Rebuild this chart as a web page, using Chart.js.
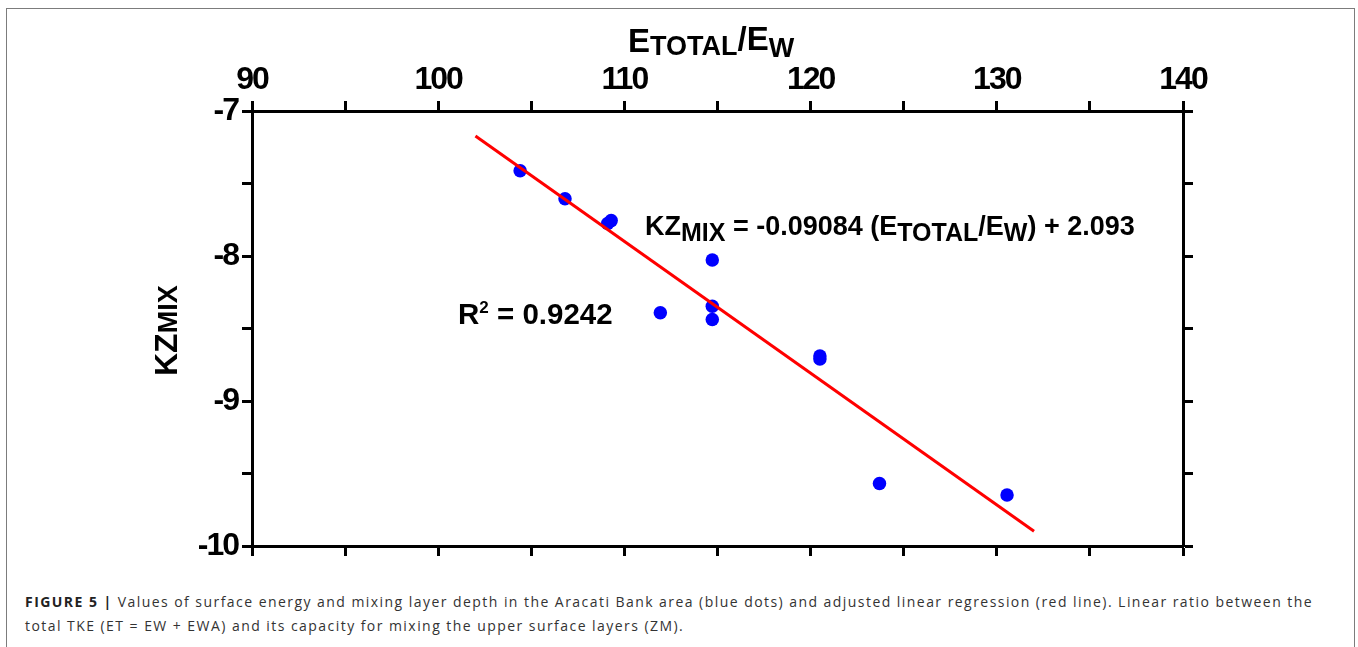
<!DOCTYPE html>
<html>
<head>
<meta charset="utf-8">
<script src="https://cdn.jsdelivr.net/npm/chart.js@4.4.1/dist/chart.umd.min.js"></script>
<style>
  body { margin: 0; background: #fff; width: 1358px; height: 647px; overflow: hidden; position: relative; }
  #frame { position: absolute; left: 6px; top: 8px; width: 1347px; height: 700px; border: 1px solid #7c7c7c; border-bottom: none; }
  #chartBox { position: absolute; left: 0; top: 0; width: 1358px; height: 580px; }
  #caption { position: absolute; left: 25px; top: 590px; font-family: "Open Sans", "Liberation Sans", Arial, sans-serif; font-size: 14px; line-height: 24px; color: #333; white-space: nowrap; }
  #caption b { color: #222; }
</style>
</head>
<body>
<div id="frame"></div>
<div id="chartBox"><canvas id="chart" width="1358" height="580"></canvas></div>
<div id="caption"><span id="capLine1"><b>FIGURE 5 |</b> Values of surface energy and mixing layer depth in the Aracati Bank area (blue dots) and adjusted linear regression (red line). Linear ratio between the</span><br><span id="capLine2">total TKE (ET = EW + EWA) and its capacity for mixing the upper surface layers (ZM).</span></div>
<script>
// measured points (Etotal/Ew vs KZmix)
const energyRatio = [104.40, 106.81, 109.10, 109.29, 114.72, 111.93, 114.72, 114.72, 120.50, 120.50, 123.70, 130.55];
const kzMix = [-7.412, -7.605, -7.776, -7.756, -8.028, -8.392, -8.346, -8.438, -8.690, -8.710, -9.569, -9.648];

// fitted line end points
const fitX = [102, 132];
const fitY = [-7.173, -9.898];

// axis ranges / ticks
const xRange = [90, 140];
const yRange = [-10, -7];
const xStep = 5;
const yStep = 0.5;
const xLabelEvery = 10;
const yLabelEvery = 1;

const TICK_FONT = { family: '"Liberation Sans", Arial, sans-serif', size: 32, weight: 'bold' };
const FONT = '"Liberation Sans", Arial, sans-serif';

function toPoints(xs, ys) {
    return xs.map((x, i) => ({ x: x, y: ys[i] }));
}

// draws text made of pieces with different sizes / offsets
function drawRich(ctx, parts, x, y) {
    let cx = x;
    parts.forEach(p => {
        ctx.font = 'bold ' + p.s + 'px ' + FONT;
        ctx.fillText(p.t, cx, y + (p.dy || 0));
        cx += ctx.measureText(p.t).width;
    });
}

// the printed tick labels are a condensed face, squeeze Arial a bit
const condensePlugin = {
    id: 'condense',
    beforeDraw(chart) {
        if ('letterSpacing' in chart.ctx) chart.ctx.letterSpacing = '-2px';
    },
    beforeDatasetsDraw(chart) {
        if ('letterSpacing' in chart.ctx) chart.ctx.letterSpacing = '0px';
    }
};

const labelsPlugin = {
    id: 'labels',
    afterDraw(chart) {
        const ctx = chart.ctx;
        ctx.save();
        if ('letterSpacing' in ctx) ctx.letterSpacing = '0px';
        ctx.fillStyle = '#000';
        ctx.textBaseline = 'alphabetic';
        ctx.textAlign = 'left';

        // top axis title
        drawRich(ctx, [
            { t: 'E', s: 33 }, { t: 'TOTAL', s: 27, dy: 3 },
            { t: '/E', s: 33, dy: -2 }, { t: 'W', s: 27, dy: 5 }
        ], 628, 52);

        // left axis title
        ctx.save();
        ctx.translate(177, 376);
        ctx.rotate(-Math.PI / 2);
        drawRich(ctx, [{ t: 'KZ', s: 32 }, { t: 'MIX', s: 27 }], 0, 0);
        ctx.restore();

        // regression equation
        drawRich(ctx, [
            { t: 'KZ', s: 27 }, { t: 'MIX', s: 25, dy: 6 },
            { t: ' = -0.09084 (', s: 27 },
            { t: 'E', s: 27 }, { t: 'TOTAL', s: 25, dy: 6 },
            { t: '/E', s: 27 }, { t: 'W', s: 25, dy: 6 },
            { t: ') + 2.093', s: 27 }
        ], 645, 235);

        drawRich(ctx, [
            { t: 'R', s: 29.5 }, { t: '2', s: 17, dy: -11 }, { t: ' = 0.9242', s: 29.5 }
        ], 458, 324);
        ctx.restore();
    }
};

function axisCommon(pos, labelEvery, step, range, size) {
    const isX = pos === 'top' || pos === 'bottom';
    return {
        type: 'linear',
        position: pos,
        min: range[0],
        max: range[1],
        border: { display: true, color: '#000', width: 3 },
        grid: { display: true, drawOnChartArea: false, drawTicks: true, tickLength: 10, tickWidth: 3, tickColor: '#000' },
        ticks: {
            stepSize: step,
            autoSkip: false,
            maxRotation: 0,
            color: '#000',
            font: TICK_FONT,
            padding: isX ? 2 : 4,
            callback: v => {
                if (!labelEvery) return '';
                const r = v / labelEvery;
                return Math.abs(r - Math.round(r)) < 1e-6 ? String(v) : '';
            }
        },
        afterFit: scale => {
            if (isX) scale.height = size; else scale.width = size;
        }
    };
}

new Chart(document.getElementById('chart'), {
    type: 'scatter',
    data: {
        datasets: [
            {
                type: 'line',
                data: toPoints(fitX, fitY),
                borderColor: '#ff0000',
                borderWidth: 3,
                pointRadius: 0,
                fill: false,
                xAxisID: 'x',
                yAxisID: 'y'
            },
            {
                data: toPoints(energyRatio, kzMix),
                backgroundColor: '#0000ff',
                borderColor: '#0000ff',
                borderWidth: 0,
                pointRadius: 6.75,
                xAxisID: 'x',
                yAxisID: 'y'
            }
        ]
    },
    options: {
        responsive: false,
        animation: false,
        layout: { padding: 0 },
        plugins: { legend: { display: false }, tooltip: { enabled: false } },
        scales: {
            x: axisCommon('top', xLabelEvery, xStep, xRange, 111),
            x2: axisCommon('bottom', 0, xStep, xRange, 580 - 546),
            y: axisCommon('left', yLabelEvery, yStep, yRange, 252),
            y2: axisCommon('right', 0, yStep, yRange, 1358 - 1183)
        }
    },
    plugins: [condensePlugin, labelsPlugin]
});

// stretch caption line 1 to the measured width of the printed figure
const line1 = document.getElementById('capLine1');
const target = 1288;
const w = line1.getBoundingClientRect().width;
const chars = line1.textContent.length;
const spacing = (target - w) / chars;
document.getElementById('caption').style.letterSpacing = spacing.toFixed(3) + 'px';
</script>
</body>
</html>
